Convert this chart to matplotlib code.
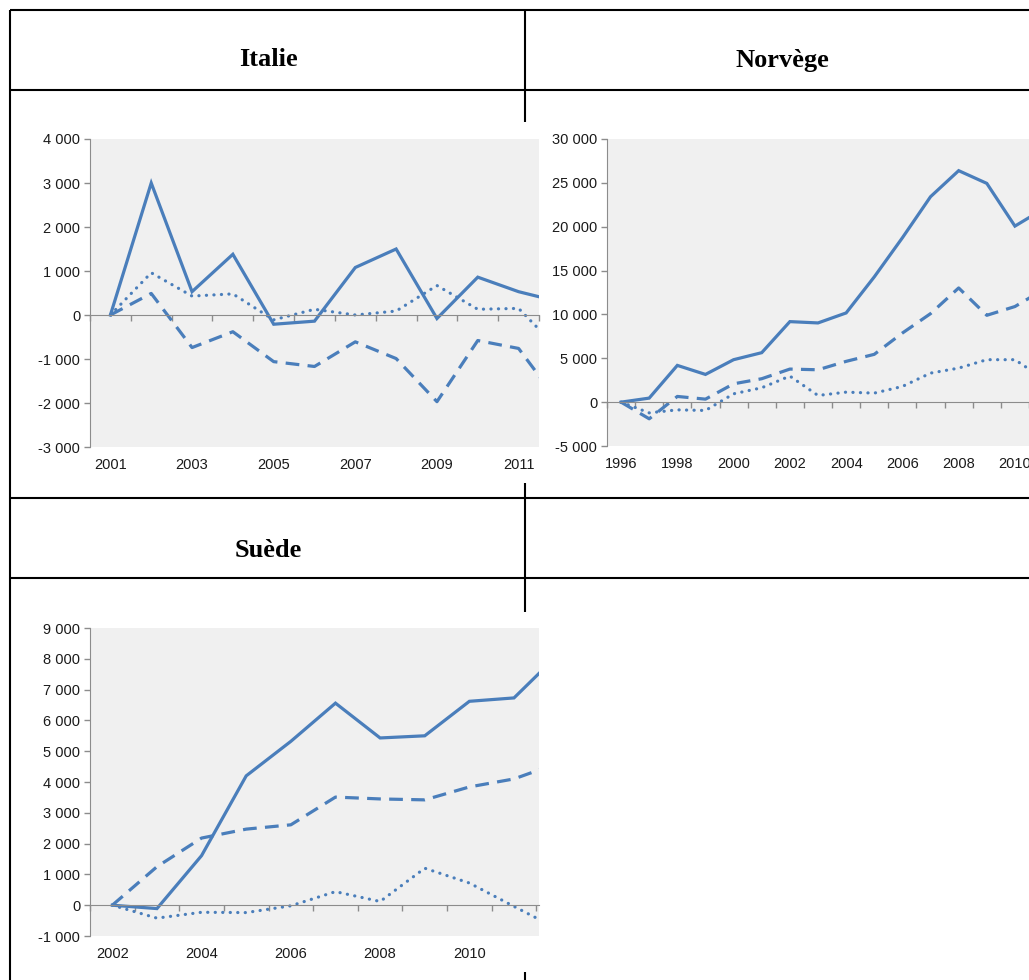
import numpy as np
import matplotlib
matplotlib.use("Agg")
import matplotlib.pyplot as plt

# values (one value per year)
italie_years = list(range(2001, 2013))
italie_solid = [0, 3000, 530, 1380, -210, -140, 1080, 1500, -80, 860, 530, 300]
italie_dashed = [0, 490, -740, -380, -1060, -1170, -610, -990, -1970, -580, -760, -2000]
italie_dotted = [0, 960, 430, 480, -110, 130, 0, 90, 670, 130, 150, -800]

norvege_years = list(range(1996, 2012))
norvege_solid = [0, 460, 4190, 3160, 4840, 5640, 9180, 9030, 10170, 14280, 18740, 23420, 26390, 24940, 20070, 22000]
norvege_dashed = [0, -1900, 650, 340, 2090, 2670, 3770, 3690, 4650, 5450, 7880, 10090, 13020, 9900, 10900, 12800]
norvege_dotted = [0, -1220, -880, -950, 950, 1640, 2970, 760, 1140, 1030, 1790, 3310, 3880, 4840, 4840, 2700]

suede_years = list(range(2002, 2013))
suede_solid = [0, -110, 1610, 4200, 5320, 6560, 5430, 5500, 6620, 6730, 8150]
suede_dashed = [0, 1250, 2180, 2470, 2610, 3510, 3450, 3420, 3840, 4100, 4620]
suede_dotted = [0, -420, -230, -240, -20, 440, 120, 1200, 720, -40, -790]

W, H = 1029, 980
blue = "#4A7EBB"
grey_bg = "#F0F0F0"
axis_col = "#8C8C8C"

fig = plt.figure(figsize=(W / 100, H / 100), dpi=100)
fig.patch.set_facecolor("white")

# table grid behind the charts, pixel coordinates
bg = fig.add_axes([0, 0, 1, 1])
bg.set_xlim(0, W)
bg.set_ylim(H, 0)
bg.axis("off")
for y in [10, 90, 498, 578]:
    bg.plot([10, W], [y, y], color="black", lw=1.5, solid_capstyle="butt")
bg.plot([10, 10], [10, H], color="black", lw=1.5, solid_capstyle="butt")
for y0, y1 in [(10, 122), (483, 612), (972, H)]:
    bg.plot([525, 525], [y0, y1], color="black", lw=1.5, solid_capstyle="butt")

titles = [("Italie", 268, 60), ("Norvège", 782, 60), ("Suède", 268, 550)]
for t, x, y in titles:
    bg.text(x, y, t, ha="center", va="center", fontsize=19, fontweight="bold",
            family="Liberation Serif")


def fmt(v):
    return f"{int(v):,}".replace(",", " ")


def panel(box, years, solid, dashed, dotted, yticks, xmax, label_step=2):
    left, right, top, bottom = box
    ax = fig.add_axes([left / W, 1 - bottom / H, (right - left) / W, (bottom - top) / H])
    ax.set_facecolor(grey_bg)
    x = np.arange(len(years))
    ax.plot(x, solid, color=blue, lw=2.3, solid_joinstyle="miter")
    ax.plot(x, dashed, color=blue, lw=2.3, linestyle=(0, (4.3, 2.6)))
    ax.plot(x, dotted, color=blue, lw=2.3, linestyle=(0, (0.05, 2.3)),
            dash_capstyle="round")
    ax.set_xlim(-0.5, xmax)
    ax.set_ylim(yticks[0], yticks[-1])

    for s in ["top", "right"]:
        ax.spines[s].set_visible(False)
    ax.spines["left"].set_color(axis_col)
    ax.spines["bottom"].set_color(axis_col)
    ax.spines["bottom"].set_position(("data", 0))

    ax.set_yticks(yticks)
    ax.set_yticklabels([fmt(v) for v in yticks], family="Liberation Sans",
                       fontsize=10.5, color="#1a1a1a")
    ax.tick_params(axis="y", direction="out", length=4, width=1, color=axis_col, pad=3)
    ax.set_xticks(np.arange(len(years)) - 0.5)
    ax.tick_params(axis="x", direction="out", length=4, width=1, color=axis_col,
                   labelbottom=False)

    sec = ax.secondary_xaxis("bottom")
    sec.set_xticks(x[::label_step])
    sec.set_xticklabels([str(y) for y in years[::label_step]], family="Liberation Sans",
                        fontsize=10.5, color="#1a1a1a")
    sec.tick_params(length=0, pad=8)
    sec.spines["bottom"].set_visible(False)
    return ax


panel((90, 539, 139, 447), italie_years, italie_solid, italie_dashed, italie_dotted,
      list(range(-3000, 4001, 1000)), 10.5)
panel((607, W, 139, 446), norvege_years, norvege_solid, norvege_dashed, norvege_dotted,
      list(range(-5000, 30001, 5000)), 14.31)
panel((90, 539, 628, 936), suede_years, suede_solid, suede_dashed, suede_dotted,
      list(range(-1000, 9001, 1000)), 9.56)

fig.savefig("out.png", dpi=100)
